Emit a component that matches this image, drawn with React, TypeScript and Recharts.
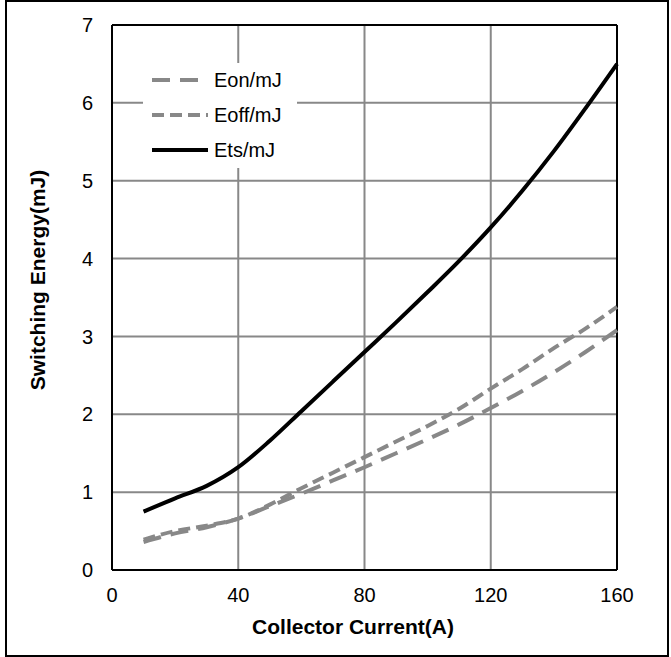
import {
  LineChart,
  Line,
  XAxis,
  YAxis,
  CartesianGrid,
  Legend,
  ReferenceLine,
} from "recharts";

const current = [10, 20, 30, 40, 50, 60, 70, 80, 90, 100, 110, 120, 130, 140, 150, 160];
const eon = [0.36, 0.47, 0.55, 0.66, 0.82, 0.98, 1.15, 1.32, 1.5, 1.68, 1.87, 2.08, 2.3, 2.54, 2.8, 3.08];
const eoff = [0.39, 0.5, 0.57, 0.66, 0.84, 1.05, 1.25, 1.45, 1.65, 1.85, 2.07, 2.33, 2.58, 2.85, 3.1, 3.38];
const ets = [0.75, 0.92, 1.08, 1.32, 1.66, 2.04, 2.42, 2.8, 3.18, 3.57, 3.97, 4.4, 4.87, 5.38, 5.93, 6.5];

const xTicks = [0, 40, 80, 120, 160];
const yTicks = [0, 1, 2, 3, 4, 5, 6, 7];

const data = current.map((c, i) => ({ current: c, eon: eon[i], eoff: eoff[i], ets: ets[i] }));

const FONT = '"Liberation Sans", Arial, sans-serif';
const GRAY = "#888888";

const series = [
  { key: "eon", name: "Eon/mJ", color: GRAY, dash: "18 10" },
  { key: "eoff", name: "Eoff/mJ", color: GRAY, dash: "12 6" },
  { key: "ets", name: "Ets/mJ", color: "#000000", dash: undefined },
];

function LegendBox() {
  return (
    <div style={{ background: "#fff", width: 154, height: 105, position: "relative" }}>
      {series.map((s, i) => (
        <div
          key={s.key}
          style={{
            position: "absolute",
            left: 9,
            top: 4 + i * 35,
            display: "flex",
            alignItems: "center",
            height: 26,
          }}
        >
          <svg width={56} height={8}>
            <line x1={0} y1={4} x2={56} y2={4} stroke={s.color} strokeWidth={4} strokeDasharray={s.dash} />
          </svg>
          <span style={{ fontFamily: FONT, fontSize: 20, marginLeft: 6, color: "#000" }}>{s.name}</span>
        </div>
      ))}
    </div>
  );
}

export default function App() {
  return (
    <div style={{ position: "absolute", left: 0, top: 0, width: 671, height: 657, background: "#fff" }}>
      <LineChart width={671} height={657} data={data} margin={{ top: 25, right: 54, bottom: 0, left: 0 }}>
        <CartesianGrid stroke={GRAY} strokeWidth={2} />
        <XAxis
          dataKey="current"
          type="number"
          domain={[0, 160]}
          ticks={xTicks}
          height={87}
          tickLine={false}
          tickSize={0}
          tickMargin={18}
          axisLine={{ stroke: "#000", strokeWidth: 2 }}
          tick={{ fill: "#000", fontSize: 20, fontFamily: FONT }}
          label={{
            content: () => (
              <text x={353} y={626} textAnchor="middle" dominantBaseline="central" fontFamily={FONT} fontSize={21} fontWeight="bold" fill="#000">
                Collector Current(A)
              </text>
            ),
          }}
        />
        <YAxis
          type="number"
          domain={[0, 7]}
          ticks={yTicks}
          width={112}
          tickLine={false}
          tickSize={0}
          tickMargin={19}
          axisLine={{ stroke: "#000", strokeWidth: 2 }}
          tick={{ fill: "#000", fontSize: 20, fontFamily: FONT }}
          label={{
            content: () => (
              <text x={37} y={280} transform="rotate(-90 37 280)" textAnchor="middle" dominantBaseline="central" fontFamily={FONT} fontSize={21} fontWeight="bold" fill="#000">
                Switching Energy(mJ)
              </text>
            ),
          }}
        />
        <ReferenceLine y={7} stroke="#000" strokeWidth={2} />
        <ReferenceLine x={160} stroke="#000" strokeWidth={2} />
        {series.map((s) => (
          <Line
            key={s.key}
            dataKey={s.key}
            name={s.name}
            type="monotone"
            stroke={s.color}
            strokeWidth={4}
            strokeDasharray={s.dash}
            dot={false}
            activeDot={false}
            isAnimationActive={false}
          />
        ))}
        <Legend
          layout="vertical"
          align="center"
          verticalAlign="middle"
          wrapperStyle={{ left: 143, top: 63, width: 154, height: 105 }}
          content={() => <LegendBox />}
        />
      </LineChart>
      <div
        style={{
          position: "absolute",
          left: 5,
          top: 0,
          width: 664,
          height: 657,
          border: "2px solid #000",
          boxSizing: "border-box",
          pointerEvents: "none",
        }}
      />
    </div>
  );
}
